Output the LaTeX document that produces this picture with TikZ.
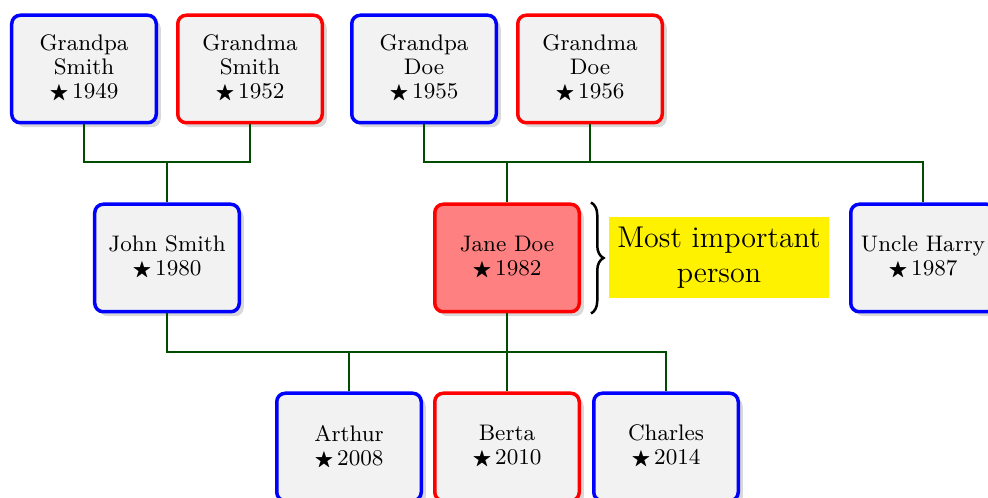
\documentclass[tikz,border=0pt]{standalone}
\usepackage{amsfonts,amsmath,amssymb}
\usepackage{xcolor}
\usepackage{tikz}
\usetikzlibrary{shadows,decorations.pathreplacing,calc}

\tikzset{
  person/.style={draw,rounded corners=3.4pt,line width=1.4pt,fill=black!5,
    minimum width=57.8pt,minimum height=43pt,align=center,font=\fontsize{9}{9.6}\selectfont,
    inner sep=1pt,drop shadow={opacity=0.3,shadow xshift=1.8pt,shadow yshift=-1.8pt}},
  male/.style={person,draw=blue},
  female/.style={person,draw=red},
  famline/.style={draw=green!30!black,line width=1.1pt},
}
\newcommand{\born}[1]{{\footnotesize$\bigstar$}\,#1}

\begin{document}
\begin{tikzpicture}[x=0.4pt,y=-0.4pt]
\useasboundingbox (0,0) rectangle (988,498);
% grandparents
\node[male]   (gps) at (84,69)  {Grandpa\\Smith\\\born{1949}};
\node[female] (gms) at (250,69) {Grandma\\Smith\\\born{1952}};
\node[male]   (gpd) at (424,69) {Grandpa\\Doe\\\born{1955}};
\node[female] (gmd) at (590,69) {Grandma\\Doe\\\born{1956}};
% parents
\node[male]   (john)  at (167,258) {John Smith\\\born{1980}};
\node[female,fill=red!50] (jane) at (507,258) {Jane Doe\\\born{1982}};
\node[male]   (harry) at (923,258) {Uncle Harry\\\born{1987}};
% children
\node[male]   (arthur)  at (349,447) {Arthur\\\born{2008}};
\node[female] (berta)   at (507,447) {Berta\\\born{2010}};
\node[male]   (charles) at (666,447) {Charles\\\born{2014}};

\coordinate (smith) at (167,162);
\coordinate (doe) at (507,162);
\coordinate (kids) at (507,352);
\draw[famline] (gps.south) -- (gps.south|-smith) -- (gms.south|-smith) -- (gms.south);
\draw[famline] (smith) -- (john.north);
\draw[famline] (gpd.south) -- (gpd.south|-doe) -- (harry.north|-doe) -- (harry.north);
\draw[famline] (gmd.south) -- (gmd.south|-doe);
\draw[famline] (doe) -- (jane.north);
\draw[famline] (john.south) -- (john.south|-kids) -- (charles.north|-kids) -- (charles.north);
\draw[famline] (jane.south) -- (berta.north);
\draw[famline] (arthur.north) -- (arthur.north|-kids);

% highlight
\draw[decorate,decoration={brace,amplitude=5pt},line width=1pt]
  ($(jane.north east)+(10,0)$) -- ($(jane.south east)+(10,0)$);
\node[fill=yellow,minimum width=88pt,minimum height=32.4pt,align=center,font=\large,inner sep=1pt]
  (note) at (719,257.5) {Most important\\person};
\end{tikzpicture}
\end{document}
